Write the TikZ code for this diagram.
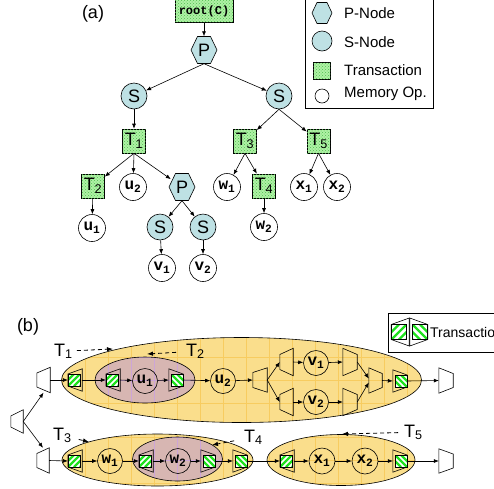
\documentclass[tikz,border=0pt]{standalone}
\usepackage{fontspec}
\setmainfont{Liberation Sans}
\newfontfamily\monob{Liberation Mono}
\usetikzlibrary{shapes.geometric,patterns,arrows.meta,calc}
\definecolor{tealc}{RGB}{190,225,228}
\definecolor{tgreen}{RGB}{175,242,165}
\definecolor{dotg}{RGB}{80,190,80}
\definecolor{yelf}{RGB}{250,222,140}
\definecolor{yelg}{RGB}{247,204,96}
\definecolor{pinkf}{RGB}{215,182,178}
\definecolor{pinkg}{RGB}{205,165,215}
\definecolor{hatchg}{RGB}{30,225,30}
\newcommand\fs[1]{\fontsize{#1}{#1}\selectfont}
% fork trapezoid: short left side, tall right side
\newcommand\trapF[6]{\node[inner sep=0pt,minimum width=#4,minimum height=#5] (#1) at (#2,#3) {};
 \draw[sline] ($(#1.west)+(0,-#6/2)$) -- (#1.north east) -- (#1.south east) -- ($(#1.west)+(0,#6/2)$) -- cycle;}
% join trapezoid: tall left side, short right side
\newcommand\trapJ[6]{\node[inner sep=0pt,minimum width=#4,minimum height=#5] (#1) at (#2,#3) {};
 \draw[sline] (#1.north west) -- ($(#1.east)+(0,-#6/2)$) -- ($(#1.east)+(0,#6/2)$) -- (#1.south west) -- cycle;}
% hatched square
\newcommand\hsq[3]{\begin{scope}\clip ({#1-6},{#2-6}) rectangle ({#1+6},{#2+6});
 \fill[white] ({#1-6},{#2-6}) rectangle ({#1+6},{#2+6});
 \foreach \k in {-3,...,3} \draw[hatchg,line width=2.3pt] ({#1-6+6*\k},{#2+6*(#3)}) -- ({#1+6+6*\k},{#2-6*(#3)});
 \end{scope}
 \draw[sline] ({#1-6},{#2-6}) rectangle ({#1+6},{#2+6});}
% transaction begin / end
\newcommand\txB[3]{\node[inner sep=0pt,minimum width=14,minimum height=22] (#1) at ({#2+1},{#3}) {};
 \draw[sline] ($(#1.west)+(0,-6)$) -- (#1.north east) -- (#1.south east) -- ($(#1.west)+(0,6)$) -- cycle;
 \hsq{#2}{#3}{1}}
\newcommand\txE[3]{\node[inner sep=0pt,minimum width=14,minimum height=22] (#1) at ({#2-1},{#3}) {};
 \draw[sline] (#1.north west) -- ($(#1.east)+(0,-6)$) -- ($(#1.east)+(0,6)$) -- (#1.south west) -- cycle;
 \hsq{#2}{#3}{-1}}
% hexagon node
\newcommand\hexnode[6]{\filldraw[sline,fill=tealc] ({#2-#4},{#3}) -- ({#2-#4/2},{#3-#5}) -- ({#2+#4/2},{#3-#5}) -- ({#2+#4},{#3}) -- ({#2+#4/2},{#3+#5}) -- ({#2-#4/2},{#3+#5}) -- cycle;
 \node[circle,inner sep=0pt,minimum size=2*#5,font=\fs{18}] (#1) at (#2,#3) {#6};}
\begin{document}
\begin{tikzpicture}[x=1pt,y=-1pt,
 sline/.style={line width=0.6pt},
 arr/.style={line width=0.6pt,-{Latex[length=5pt,width=4pt]}},
 darr/.style={line width=0.8pt,dash pattern=on 4pt off 3pt,-{Latex[length=6pt,width=4.5pt]}},
 snode/.style={circle,draw,line width=0.6pt,fill=tealc,minimum size=26pt,inner sep=0pt,font=\fs{18}},
 tnode/.style={rectangle,draw,line width=0.6pt,fill=tgreen,postaction={pattern=crosshatch dots,pattern color=dotg},minimum width=23pt,minimum height=24pt,inner sep=0pt,font=\fs{18}},
 mnode/.style={circle,draw,line width=0.6pt,fill=white,minimum size=27pt,inner sep=0pt,font=\monob\bfseries\fs{16}},
 mnodeb/.style={circle,draw,line width=0.6pt,minimum size=25pt,inner sep=0pt,font=\monob\bfseries\fs{16}},
 lab/.style={font=\fs{18},inner sep=1pt},
 legt/.style={font=\fs{15},anchor=west,inner sep=0pt},
 ygrid/.style={yelg,line width=0.5pt},
 pgrid/.style={pinkg,line width=0.5pt}]
\useasboundingbox (0,0) rectangle (494,488);
% ================= (a) =================
\node[font=\fs{18}] (la) at (93,14) {(a)};
\node[tnode,minimum width=58pt,minimum height=23pt,font=\monob\bfseries\fs{12}] (root) at (204,11) {root(C)};
\hexnode{P1}{204}{50}{13}{13.5}{P}
\node[snode] (Sl) at (134,96) {S};
\node[snode] (Sr) at (279,96) {S};
\node[tnode] (T1) at (134,141) {T\textsubscript{1}};
\node[tnode] (T3) at (245,141) {T\textsubscript{3}};
\node[tnode] (T5) at (318.5,141) {T\textsubscript{5}};
\node[tnode] (T2) at (93,186) {T\textsubscript{2}};
\node[mnode] (u2) at (133,187) {u\textsubscript{2}};
\hexnode{P2}{182}{187}{13}{13.5}{P}
\node[mnode] (w1) at (227,187) {w\textsubscript{1}};
\node[tnode] (T4) at (264,186) {T\textsubscript{4}};
\node[mnode] (x1) at (304,187) {x\textsubscript{1}};
\node[mnode] (x2) at (337,187) {x\textsubscript{2}};
\node[mnode] (u1) at (92,228) {u\textsubscript{1}};
\node[snode] (S3) at (160,227) {S};
\node[snode] (S4) at (203,227) {S};
\node[mnode] (w2) at (264,227) {w\textsubscript{2}};
\node[mnode] (v1) at (162,268) {v\textsubscript{1}};
\node[mnode] (v2) at (203,268) {v\textsubscript{2}};
\draw[arr] (root.south) -- (P1);
\draw[arr] (P1.south) -- (Sl);
\draw[arr] (P1.south) -- (Sr);
\draw[arr] (Sl) -- (T1);
\draw[arr] (Sr.south) -- (T3);
\draw[arr] (Sr.south) -- (T5);
\draw[arr] (T1.south) -- (T2);
\draw[arr] (T1.south) -- (u2);
\draw[arr] (T1.south) -- (P2);
\draw[arr] (T2) -- (u1);
\draw[arr] (P2.south) -- (S3);
\draw[arr] (P2.south) -- (S4);
\draw[arr] (S3) -- (v1);
\draw[arr] (S4) -- (v2);
\draw[arr] (T3.south) -- (w1);
\draw[arr] (T3.south) -- (T4);
\draw[arr] (T4) -- (w2);
\draw[arr] (T5.south) -- (x1);
\draw[arr] (T5.south) -- (x2);
% legend (a)
\draw[sline] (305,-1) rectangle (433,108);
\hexnode{lgP}{322}{13}{10}{10.5}{}
\node[snode,minimum size=20pt] (lgS) at (322,41) {};
\node[tnode,minimum width=17pt,minimum height=17pt] (lgT) at (322,71) {};
\node[mnode,minimum size=14pt] (lgM) at (322,96) {};
\node[legt] (lgPt) at (344,13) {P-Node};
\node[legt] (lgSt) at (344,42) {S-Node};
\node[legt] (lgTt) at (344,70) {Transaction};
\node[legt] (lgMt) at (344,94) {Memory Op.};
% ================= (b) =================
\node[font=\fs{18}] (lb) at (28,327) {(b)};
% ellipses
\node[ellipse,fill=yelf,minimum width=360pt,minimum height=85pt,inner sep=0pt] (E1) at (241.5,380) {};
\begin{scope}\clip (241.5,380) ellipse (180 and 42.5);
 \foreach \gx in {62,85,...,430} \draw[ygrid] (\gx,330) -- (\gx,430);
 \foreach \gy in {334,357,...,426} \draw[ygrid] (50,\gy) -- (430,\gy);
\end{scope}
\draw[sline] (241.5,380) ellipse (180 and 42.5);
\node[ellipse,fill=pinkf,minimum width=100pt,minimum height=46pt,inner sep=0pt] (E2) at (145,380) {};
\begin{scope}\clip (145,380) ellipse (50 and 23);
 \foreach \gx in {62,85,...,430} \draw[pgrid] (\gx,330) -- (\gx,430);
 \foreach \gy in {334,357,...,426} \draw[pgrid] (50,\gy) -- (430,\gy);
\end{scope}
\draw[sline] (145,380) ellipse (50 and 23);
\node[ellipse,fill=yelf,minimum width=191pt,minimum height=52pt,inner sep=0pt] (E3) at (157.5,460) {};
\begin{scope}\clip (157.5,460) ellipse (95.5 and 26);
 \foreach \gx in {62,85,...,430} \draw[ygrid] (\gx,420) -- (\gx,490);
 \foreach \gy in {414,437,...,490} \draw[ygrid] (50,\gy) -- (430,\gy);
\end{scope}
\draw[sline] (157.5,460) ellipse (95.5 and 26);
\node[ellipse,fill=pinkf,minimum width=90pt,minimum height=44pt,inner sep=0pt] (E4) at (177.5,459) {};
\begin{scope}\clip (177.5,459) ellipse (45 and 22);
 \foreach \gx in {62,85,...,430} \draw[pgrid] (\gx,420) -- (\gx,490);
 \foreach \gy in {414,437,...,490} \draw[pgrid] (50,\gy) -- (430,\gy);
\end{scope}
\draw[sline] (177.5,459) ellipse (45 and 22);
\node[ellipse,fill=yelf,minimum width=148pt,minimum height=51pt,inner sep=0pt] (E5) at (341,460) {};
\begin{scope}\clip (341,460) ellipse (74 and 25.5);
 \foreach \gx in {62,85,...,430} \draw[ygrid] (\gx,420) -- (\gx,490);
 \foreach \gy in {414,437,...,490} \draw[ygrid] (250,\gy) -- (430,\gy);
\end{scope}
\draw[sline] (341,460) ellipse (74 and 25.5);
% row 1
\trapF{R0}{17}{421.5}{12}{23}{11}
\trapF{En1}{43.5}{380}{13}{25}{14}
\txB{bT1}{74}{380}
\txB{bT2}{112}{380}
\node[mnodeb] (bu1) at (145,381) {u\textsubscript{1}};
\txE{eT2}{177}{380}
\node[mnodeb] (bu2) at (223,381) {u\textsubscript{2}};
\trapF{F1}{260}{380}{14}{24}{15}
\trapF{Fu}{286.5}{362}{13}{27}{15}
\trapF{Fl}{286.5}{402}{13}{27}{15}
\node[mnodeb] (bv1) at (316,363) {v\textsubscript{1}};
\node[mnodeb] (bv2) at (316,402) {v\textsubscript{2}};
\trapJ{Ju}{350}{362}{14}{27}{15}
\trapJ{Jl}{350}{402}{14}{27}{15}
\trapJ{J}{375.5}{380.5}{13}{25}{14}
\txE{eT1}{401}{381}
\trapJ{Ex1}{446}{380.5}{14}{25}{14}
% row 2
\trapF{En3}{43}{460.5}{12}{25}{14}
\txB{bT3}{74}{461}
\node[mnodeb] (bw1) at (110,461) {w\textsubscript{1}};
\txB{bT4}{145}{461}
\node[mnodeb] (bw2) at (178,461) {w\textsubscript{2}};
\txE{eT4}{209}{461}
\txE{eT3}{241}{461}
\txB{bT5}{286}{461}
\node[mnodeb,minimum size=26pt] (bx1) at (322,461) {x\textsubscript{1}};
\node[mnodeb,minimum size=26pt] (bx2) at (365,461) {x\textsubscript{2}};
\txE{eT5}{401}{461}
\trapJ{Ex3}{446}{461}{14}{24}{14}
% connectors row 1
\draw[arr] (R0.east) -- (En1.south);
\draw[arr] (R0.east) -- (En3.north);
\draw[arr] (En1.east) -- (bT1.west);
\draw[arr] (bT1.east) -- (bT2.west);
\draw[arr] (bT2.east) -- (bu1);
\draw[arr] (bu1) -- (eT2.west);
\draw[arr] (eT2.east) -- (bu2);
\draw[arr] (bu2) -- (F1.west);
\draw[arr] (F1.east) -- (Fu.west);
\draw[arr] (F1.east) -- (Fl.west);
\draw[arr] (Fu.east) -- (bv1);
\draw[arr] (Fl.east) -- (bv2);
\draw[arr] (bv1) -- (Ju.west);
\draw[arr] (bv2) -- (Jl.west);
\draw[arr] (Ju.east) -- ($(J.west)+(0,-2)$);
\draw[arr] (Jl.east) -- ($(J.west)+(0,2)$);
\draw[arr] (J.east) -- (eT1.west);
\draw[arr] (eT1.east) -- (Ex1.west);
% connectors row 2
\draw[arr] (En3.east) -- (bT3.west);
\draw[arr] (bT3.east) -- (bw1);
\draw[arr] (bw1) -- (bT4.west);
\draw[arr] (bT4.east) -- (bw2);
\draw[arr] (bw2) -- (eT4.west);
\draw[arr] (eT4.east) -- (eT3.west);
\draw[arr] (eT3.east) -- (bT5.west);
\draw[arr] (bT5.east) -- (bx1);
\draw[arr] (bx1) -- (bx2);
\draw[arr] (bx2) -- (eT5.west);
\draw[arr] (eT5.east) -- (Ex3.west);
% labels
\node[lab,anchor=base west] (L1) at (53,356) {T\textsubscript{1}};
\node[lab,anchor=base west] (L2) at (185,356) {T\textsubscript{2}};
\node[lab,anchor=base west] (L3) at (52,440) {T\textsubscript{3}};
\node[lab,anchor=base west] (L4) at (243,442) {T\textsubscript{4}};
\node[lab,anchor=base west] (L5) at (403,437) {T\textsubscript{5}};
\coordinate (a1) at (113,349);
\coordinate (a2) at (147,354);
\coordinate (a3) at (89,442);
\coordinate (a4) at (212,445);
\coordinate (a5) at (342,434);
\draw[darr,shorten <=3pt] (L1) -- (a1);
\draw[darr,shorten <=9pt] (L2) -- (a2);
\draw[darr,shorten <=6pt] (L3) -- (a3);
\draw[darr,shorten <=9pt] (L4) -- (a4);
\draw[darr,shorten <=5pt] (L5) -- (a5);
% legend (b)
\draw[sline] (388,313) rectangle (500,352);
\begin{scope}[shift={(399,332)},scale=1.25,transform shape]
 \txB{lgB}{0}{0}
\end{scope}
\begin{scope}[shift={(420,332)},scale=1.25,transform shape]
 \txE{lgE}{0}{0}
\end{scope}
\node[legt,font=\fs{14}] (lgTb) at (430,332) {Transaction};
\end{tikzpicture}
\end{document}
